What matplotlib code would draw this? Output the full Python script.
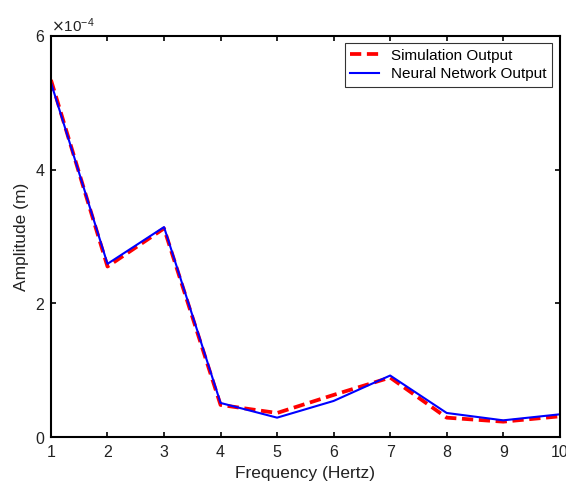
"""Simulation vs neural network output amplitude over frequency."""
import matplotlib

matplotlib.use("Agg")
import matplotlib.pyplot as plt
from matplotlib.ticker import ScalarFormatter

freq = [1, 2, 3, 4, 5, 6, 7, 8, 9, 10]
sim_amp = [5.34e-4, 2.55e-4, 3.12e-4, 0.48e-4, 0.36e-4, 0.63e-4, 0.89e-4, 0.29e-4, 0.23e-4, 0.31e-4]
nn_amp = [5.30e-4, 2.59e-4, 3.14e-4, 0.51e-4, 0.29e-4, 0.54e-4, 0.92e-4, 0.36e-4, 0.25e-4, 0.34e-4]

plt.rcParams["font.family"] = ["Liberation Sans", "DejaVu Sans"]
plt.rcParams["font.size"] = 11

fig = plt.figure(figsize=(5.66, 4.84), dpi=100)
ax = fig.add_axes([0.090, 0.097, 0.899, 0.829])

ax.plot(freq, sim_amp, color="red", linestyle="--", linewidth=2.7, dashes=(3, 1.5),
        label="Simulation Output")
ax.plot(freq, nn_amp, color="blue", linewidth=1.5, label="Neural Network Output")

ax.set_xlim(1, 10)
ax.set_ylim(0, 6e-4)
ax.set_xticks(freq)
ax.set_yticks([0, 2e-4, 4e-4, 6e-4])
fmt = ScalarFormatter(useMathText=True)
fmt.set_powerlimits((0, 0))
ax.yaxis.set_major_formatter(fmt)
ax.yaxis.get_offset_text().set_fontsize(11)

ax.tick_params(direction="in", top=True, right=True, length=3.5, width=1.2,
               labelsize=11.5, labelcolor="#222222")
ax.tick_params(axis="x", pad=6)
ax.tick_params(axis="y", pad=4)
for s in ax.spines.values():
    s.set_linewidth(1.5)

ax.set_xlabel("Frequency (Hertz)", fontsize=12.5, labelpad=4, color="#222222")
ax.set_ylabel("Amplitude (m)", fontsize=12.5, labelpad=4, color="#222222")

leg = ax.legend(loc="upper right", fontsize=11, frameon=True, fancybox=False,
                handlelength=1.9, borderpad=0.35, labelspacing=0.3,
                borderaxespad=0.5, handletextpad=0.8)
leg.get_frame().set_edgecolor("black")
leg.get_frame().set_linewidth(0.8)

fig.savefig("out.png", dpi=100)
